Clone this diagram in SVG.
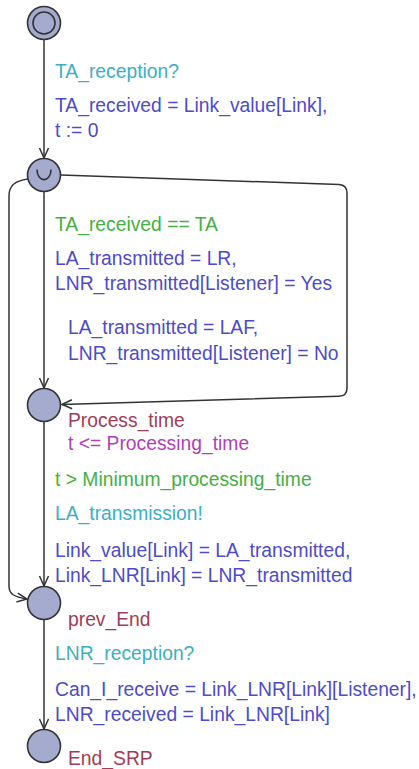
<svg xmlns="http://www.w3.org/2000/svg" width="419" height="769" viewBox="0 0 419 769">
<style>
text{font-family:"Liberation Sans",Arial,sans-serif;font-size:19.3px}
.loc{fill:#a4abcf;stroke:#333;stroke-width:1.6}
.edge{fill:none;stroke:#333;stroke-width:1.5}
.sync{fill:#3ab0c0}
.upd{fill:#4d4bc8}
.grd{fill:#44b044}
.name{fill:#a03c5a}
.inv{fill:#b040b8}
</style>
<defs>
<marker id="arr" markerUnits="userSpaceOnUse" markerWidth="14" markerHeight="12" viewBox="-12 -6 14 12" refX="0" refY="0" orient="auto">
<path d="M-10,-4.5 L0,0 L-10,4.5" fill="none" stroke="#333" stroke-width="1.5"/>
</marker>
</defs>
<g id="connectors">
<path class="edge" d="M44,40 L44,158" marker-end="url(#arr)"/>
<path class="edge" d="M44,192 L44,388" marker-end="url(#arr)"/>
<path class="edge" d="M61,175 L339,184.5 Q347,185 347,193 L347,388 Q347,396 339,396.3 L62,404.5" marker-end="url(#arr)"/>
<path class="edge" d="M28,179 C14,181 9,186 9,196 L9,586 C9,594 14,597 27,599" marker-end="url(#arr)"/>
<path class="edge" d="M44,422 L44,586" marker-end="url(#arr)"/>
<path class="edge" d="M44,620 L44,729" marker-end="url(#arr)"/>
</g>
<g id="init">
<circle class="loc" cx="44" cy="23" r="16.5"/>
<circle cx="44" cy="23" r="11" fill="none" stroke="#333" stroke-width="1.6"/>
</g>
<g id="committed">
<circle class="loc" cx="44" cy="175" r="16.5"/>
<path d="M37,169.5 C37,183 51,183 51,169.5" fill="none" stroke="#333" stroke-width="1.6"/>
</g>
<g id="process_time">
<circle class="loc" cx="44" cy="405" r="16.5"/>
<text class="name" x="68" y="427">Process_time</text>
<text class="inv" x="68" y="450">t &lt;= Processing_time</text>
</g>
<g id="prev_end">
<circle class="loc" cx="44" cy="603" r="16.5"/>
<text class="name" x="68" y="626">prev_End</text>
</g>
<g id="end_srp">
<circle class="loc" cx="44" cy="746" r="16.5"/>
<text class="name" x="68" y="765">End_SRP</text>
</g>
<g id="labels">
<text class="sync" x="55" y="78">TA_reception?</text>
<text class="upd" x="55" y="112">TA_received = Link_value[Link],</text>
<text class="upd" x="55" y="137">t := 0</text>
<text class="grd" x="55" y="231">TA_received == TA</text>
<text class="upd" x="55" y="265">LA_transmitted = LR,</text>
<text class="upd" x="55" y="290">LNR_transmitted[Listener] = Yes</text>
<text class="upd" x="68" y="334">LA_transmitted = LAF,</text>
<text class="upd" x="68" y="360">LNR_transmitted[Listener] = No</text>
<text class="grd" x="55" y="486">t &gt; Minimum_processing_time</text>
<text class="sync" x="55" y="520">LA_transmission!</text>
<text class="upd" x="55" y="557">Link_value[Link] = LA_transmitted,</text>
<text class="upd" x="55" y="582">Link_LNR[Link] = LNR_transmitted</text>
<text class="sync" x="55" y="660">LNR_reception?</text>
<text class="upd" x="55" y="696">Can_I_receive = Link_LNR[Link][Listener],</text>
<text class="upd" x="55" y="721">LNR_received = Link_LNR[Link]</text>
</g>
</svg>
